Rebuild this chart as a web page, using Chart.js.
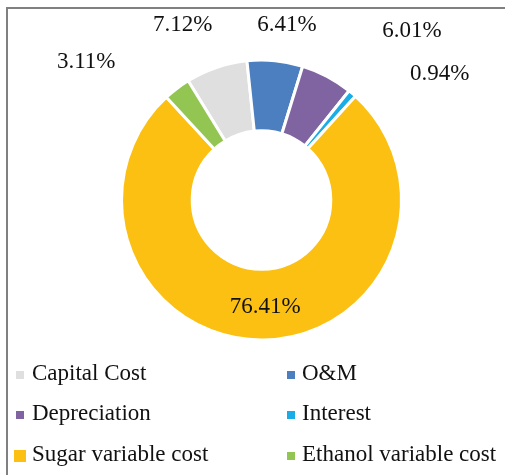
<!DOCTYPE html>
<html>
<head>
<meta charset="utf-8">
<script src="https://cdn.jsdelivr.net/npm/chart.js@4.4.0/dist/chart.umd.min.js"></script>
<style>
  html, body { margin: 0; padding: 0; background: #fff; }
  #wrap { position: relative; width: 505px; height: 475px; overflow: hidden; }
  #frame { position: absolute; left: 6px; top: 7px; right: -10px; bottom: -10px;
           border-top: 2px solid #808080; border-left: 2px solid #808080; }
  canvas { position: absolute; left: 0; top: 0; }
</style>
</head>
<body>
<div id="wrap">
  <div id="frame"></div>
  <canvas id="costChart" width="505" height="475"></canvas>
</div>
<script>
// data
var categories = ['Capital Cost', 'O&M', 'Depreciation', 'Interest', 'Sugar variable cost', 'Ethanol variable cost'];
var shares = [7.12, 6.41, 6.01, 0.94, 76.41, 3.11];
var colors = ['#dfdfdf', '#4b7fc0', '#8063a1', '#1aace6', '#fbc012', '#93c553'];

// where each percentage label sits: angle (deg, clockwise from top) and distance from centre
var labelAngle = [-24.2, 8.3, 41.7, 54.8, 178, -51.8];
var labelDist = [192, 177, 226, 218, 107, 223];

var FONT = '"Liberation Serif", "Times New Roman", serif';

var valueLabels = {
    id: 'valueLabels',
    afterDatasetsDraw: function(chart) {
        var ctx = chart.ctx,
            arcs = chart.getDatasetMeta(0).data;
        ctx.save();
        ctx.font = '23px ' + FONT;
        ctx.fillStyle = '#111';
        ctx.textAlign = 'center';
        ctx.textBaseline = 'middle';
        arcs.forEach(function(arc, i) {
            var a = labelAngle[i] * Math.PI / 180;
            ctx.fillText(shares[i].toFixed(2) + '%', arc.x + labelDist[i] * Math.sin(a), arc.y - labelDist[i] * Math.cos(a));
        });
        ctx.restore();
    }
};

// two column legend under the ring
var gridLegend = {
    id: 'gridLegend',
    afterDraw: function(chart) {
        var ctx = chart.ctx,
            boxX = [16, 287],
            textX = [32, 302],
            rowY = [374, 414, 455];
        ctx.save();
        ctx.font = '23px ' + FONT;
        ctx.textBaseline = 'middle';
        ctx.textAlign = 'left';
        categories.forEach(function(name, i) {
            var col = i % 2, row = Math.floor(i / 2);
            var s = i === 4 ? 12 : 8;
            ctx.fillStyle = colors[i];
            ctx.fillRect(boxX[col] - (i === 4 ? 2 : 0), rowY[row] + 1 - s / 2, s, s);
            ctx.fillStyle = '#111';
            ctx.fillText(name, textX[col], rowY[row]);
        });
        ctx.restore();
    }
};

new Chart(document.getElementById('costChart').getContext('2d'), {
    type: 'doughnut',
    data: {
        labels: categories,
        datasets: [{
            data: shares,
            backgroundColor: colors,
            borderColor: '#ffffff',
            borderWidth: 3,
            hoverOffset: 0
        }]
    },
    options: {
        responsive: false,
        animation: false,
        rotation: -31.6,
        cutout: '49.5%',
        layout: {
            padding: { left: 120, top: 58.5, right: 102, bottom: 133.5 }
        },
        plugins: {
            legend: { display: false },
            tooltip: { enabled: false }
        }
    },
    plugins: [valueLabels, gridLegend]
});
</script>
</body>
</html>
